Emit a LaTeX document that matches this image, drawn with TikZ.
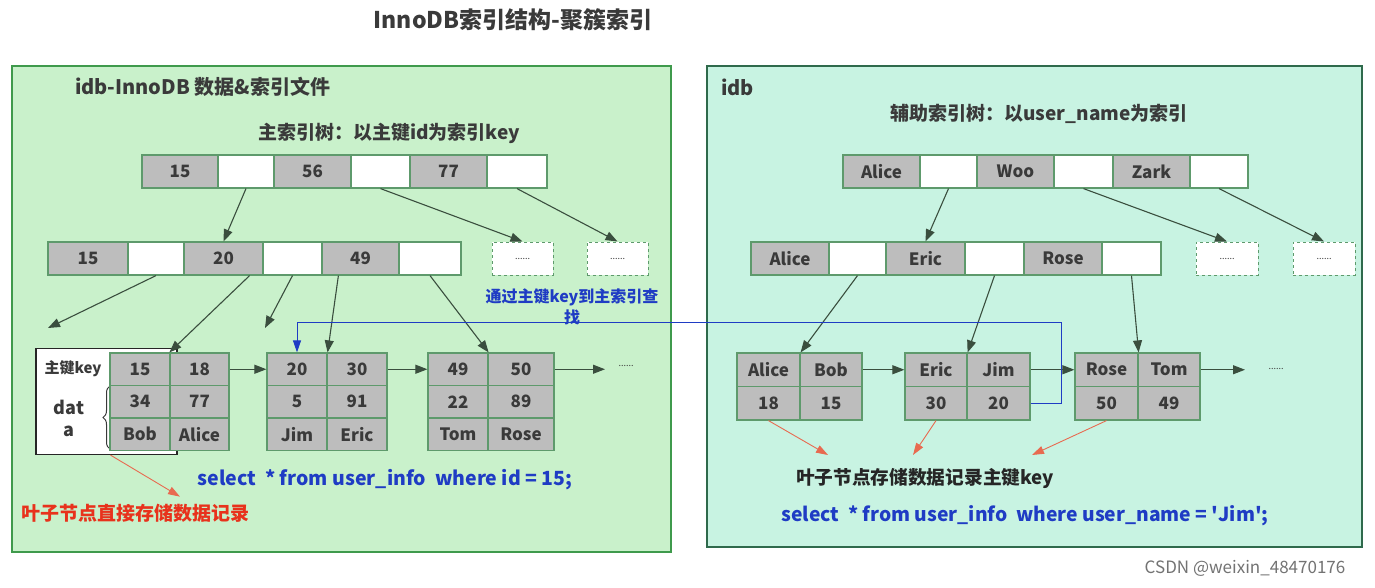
\documentclass[tikz,border=0pt]{standalone}
\usepackage{fontspec}
\setmainfont{Noto Sans CJK SC}
\usetikzlibrary{arrows.meta,calc,decorations.pathreplacing}
\definecolor{lfill}{HTML}{C9F1CB}
\definecolor{lline}{HTML}{3F9A4C}
\definecolor{rfill}{HTML}{C8F3E2}
\definecolor{rline}{HTML}{2F6A4C}
\definecolor{cellgray}{HTML}{BDBDBD}
\definecolor{cellline}{HTML}{5E9A6C}
\definecolor{celltext}{HTML}{3A3A3A}
\definecolor{arrowc}{HTML}{3A4E3E}
\definecolor{bluec}{HTML}{1F3CC4}
\definecolor{redc}{HTML}{E8321C}
\definecolor{redarr}{HTML}{E86A50}
\definecolor{titlec}{HTML}{3A3A3A}
\tikzset{
  cell/.style={draw=cellline, line width=1.2pt, inner sep=0pt, minimum height=33pt,
    text=celltext, font=\fontsize{17}{20}\selectfont\bfseries},
  gc/.style={cell, fill=cellgray},
  wc/.style={cell, fill=white},
  dbox/.style={draw=cellline, dashed, line width=1pt, fill=white, minimum width=61pt,
    minimum height=33pt, inner sep=0pt, text=celltext, font=\fontsize{9}{10}\selectfont},
  arr/.style={-{Triangle[length=12pt,width=9pt]}, draw=arrowc, line width=1.1pt},
  rarr/.style={-{Triangle[length=12pt,width=8pt]}, draw=redarr, line width=0.9pt},
  barr/.style={-{Triangle[length=12pt,width=8pt]}, draw=bluec, line width=1pt},
  lbl/.style={inner sep=0pt, text=celltext, font=\fontsize{18}{21}\selectfont\bfseries},
}
\begin{document}
\begin{tikzpicture}[x=1pt,y=-1pt]
\useasboundingbox[fill=white] (0,0) rectangle (1375,588);
% title
\node[lbl, text=titlec, font=\fontsize{23}{27}\selectfont\bfseries] (title) at (513,20) {InnoDB索引结构-聚簇索引};
% panels
\node[draw=lline, fill=lfill, line width=1.5pt, minimum width=659pt, minimum height=486pt, inner sep=0pt] (lpanel) at (341.5,309) {};
\node[draw=rline, fill=rfill, line width=1.5pt, minimum width=655pt, minimum height=481pt, inner sep=0pt] (rpanel) at (1034.5,306.5) {};
% left headers
\node[lbl, anchor=west, font=\fontsize{20}{24}\selectfont\bfseries] (ltitle) at (75,87) {idb-InnoDB 数据\&索引文件};
\node[lbl, font=\fontsize{19}{22}\selectfont\bfseries] (lsub) at (389,133) {主索引树：以主键id为索引key};
% left root
\node[gc, minimum width=76pt] (L0a) at (180,171.5) {15};
\node[wc, minimum width=56pt] (L0b) at (246,171.5) {};
\node[gc, minimum width=77pt] (L0c) at (312.5,171.5) {56};
\node[wc, minimum width=59pt] (L0d) at (380.5,171.5) {};
\node[gc, minimum width=77pt] (L0e) at (448.5,171.5) {77};
\node[wc, minimum width=60pt] (L0f) at (517,171.5) {};
% left level 2
\node[gc, minimum width=80pt] (L1a) at (88,258.5) {15};
\node[wc, minimum width=56pt] (L1b) at (156,258.5) {};
\node[gc, minimum width=79pt] (L1c) at (223.5,258.5) {20};
\node[wc, minimum width=59pt] (L1d) at (292.5,258.5) {};
\node[gc, minimum width=77pt] (L1e) at (360.5,258.5) {49};
\node[wc, minimum width=62pt] (L1f) at (430,258.5) {};
\node[dbox] (D1) at (522.5,258.5) {......};
\node[dbox] (D2) at (617.5,258.5) {......};
% left leaf 1 box
\node[draw=black!85, fill=white, line width=1.2pt, minimum width=141pt, minimum height=106pt, inner sep=0pt] (LAbox) at (106.5,401.5) {};
\node[lbl, font=\fontsize{15}{18}\selectfont\bfseries] (pk) at (73,369) {主键key};
\node[lbl, align=center, font=\fontsize{18}{22}\selectfont\bfseries] (datl) at (69,418) {dat\\a};
\draw[decorate, decoration={brace, amplitude=7pt}, draw=celltext, line width=1pt] (110,449) -- (110,386);
% left leaves
\foreach \nm/\cx/\w/\ta/\tb/\tc in {LA/140/60/15/34/Bob, LAb/199.5/59/18/77/Alice,
  LB/297/60/20/5/Jim, LBb/357/60/30/91/Eric, LC/458/60/49/22/Tom, LCb/521/66/50/89/Rose}{
  \node[gc, minimum width=\w pt, minimum height=32.5pt] (\nm1) at (\cx,369.25) {\ta};
  \node[gc, minimum width=\w pt, minimum height=32.5pt] (\nm2) at (\cx,401.75) {\tb};
  \node[gc, minimum width=\w pt, minimum height=32.5pt] (\nm3) at (\cx,434.25) {\tc};
}
% left arrows
\draw[arr] (L0b.south) -- (L1c.north);
\draw[arr] (L0d.south) -- (D1.north);
\draw[arr] (L0f.south) -- (D2.north);
\coordinate (lfree1) at (48,328);
\coordinate (lfree2) at (265,328);
\draw[arr] (L1b.south) -- (lfree1);
\draw[arr] ([xshift=-14pt]L1c.south east) -- (LAb1.north west);
\draw[arr] (L1d.south) -- (lfree2);
\draw[arr] ([xshift=17pt]L1e.south west) -- (LB1.north east);
\draw[arr] (L1f.south) -- (LC1.north east);
\draw[arr] (LAb1.east) -- (LB1.west);
\draw[arr] (LBb1.east) -- (LC1.west);
\coordinate (lend) at (605,369.25);
\draw[arr] (LCb1.east) -- (lend);
\node[inner sep=0pt, text=celltext, font=\fontsize{9}{10}\selectfont] (ldots) at (626,366) {......};
% left texts
\node[lbl, text=bluec, font=\fontsize{19.5}{23}\selectfont\bfseries] (lsel) at (385,480) {select~ * from user\_info~ where id = 15;};
\node[lbl, text=redc, font=\fontsize{19}{22}\selectfont\bfseries] (lred) at (135,513) {叶子节点直接存储数据记录};
\draw[rarr] ([xshift=4pt]LAbox.south) -- ([xshift=45pt,yshift=7pt]lred.north);
\node[lbl, text=bluec, align=center, font=\fontsize{16}{21}\selectfont\bfseries] (bnote) at (572,307) {通过主键key到主索引查\\找};
% right headers
\node[lbl, anchor=west, font=\fontsize{20}{24}\selectfont\bfseries] (rtitle) at (721,87) {idb};
\node[lbl, font=\fontsize{19}{22}\selectfont\bfseries] (rsub) at (1039,114) {辅助索引树：以user\_name为索引};
% right root
\node[gc, minimum width=77pt] (R0a) at (881.5,171.5) {Alice};
\node[wc, minimum width=57pt] (R0b) at (948.5,171.5) {};
\node[gc, minimum width=77pt] (R0c) at (1015.5,171.5) {Woo};
\node[wc, minimum width=59pt] (R0d) at (1083.5,171.5) {};
\node[gc, minimum width=77pt] (R0e) at (1151.5,171.5) {Zark};
\node[wc, minimum width=58pt] (R0f) at (1219,171.5) {};
% right level 2
\node[gc, minimum width=78pt] (R1a) at (790,258.5) {Alice};
\node[wc, minimum width=57pt] (R1b) at (857.5,258.5) {};
\node[gc, minimum width=79pt] (R1c) at (925.5,258.5) {Eric};
\node[wc, minimum width=59pt] (R1d) at (994.5,258.5) {};
\node[gc, minimum width=78pt] (R1e) at (1063,258.5) {Rose};
\node[wc, minimum width=59pt] (R1f) at (1131.5,258.5) {};
\node[dbox, minimum width=62pt] (RD1) at (1227,258.5) {......};
\node[dbox, minimum width=62pt] (RD2) at (1324,258.5) {......};
% right leaves
\foreach \nm/\cx/\w/\ta/\tb in {RA/768.5/63/Alice/18, RAb/831/62/Bob/15,
  RB/936/62/Eric/30, RBb/998.5/63/Jim/20, RC/1106.5/63/Rose/50, RCb/1169/62/Tom/49}{
  \node[gc, minimum width=\w pt, minimum height=33.5pt] (\nm1) at (\cx,369.75) {\ta};
  \node[gc, minimum width=\w pt, minimum height=33.5pt] (\nm2) at (\cx,403.25) {\tb};
}
% right arrows
\draw[arr] (R0b.south) -- (R1c.north);
\draw[arr] (R0d.south) -- (RD1.north);
\draw[arr] (R0f.south) -- (RD2.north);
\draw[arr] (R1b.south) -- (RA1.north east);
\draw[arr] (R1d.south) -- (RB1.north east);
\draw[arr] (R1f.south) -- (RC1.north east);
\draw[arr] (RAb1.east) -- (RB1.west);
\draw[arr] (RBb1.east) -- (RC1.west);
\coordinate (rend) at (1245,369.75);
\draw[arr] (RCb1.east) -- (rend);
\node[inner sep=0pt, text=celltext, font=\fontsize{9}{10}\selectfont] (rdots) at (1276,369) {......};
% right texts
\node[lbl, text=black!85, font=\fontsize{18.7}{22}\selectfont\bfseries] (rleaf) at (925,478) {叶子节点存储数据记录主键key};
\node[lbl, text=bluec, font=\fontsize{19.3}{23}\selectfont\bfseries] (rsel) at (1025,516) {select~ * from user\_info~ where user\_name = \textquotesingle Jim\textquotesingle;};
\coordinate (ra1) at (828,455);
\coordinate (ra2) at (913,455);
\coordinate (ra3) at (1032,455);
\draw[rarr] (RA2.south) -- (ra1);
\draw[rarr] (RB2.south) -- (ra2);
\draw[rarr] (RC2.south) -- (ra3);
% blue lookup path
\coordinate (bturn) at (1061,322);
\draw[barr] (RBb2.east) -| (bturn) -| (LB1.north);
% watermark
\node[inner sep=0pt, text=black!55, font=\fontsize{17}{20}\selectfont] (wm) at (1245,568) {CSDN @weixin\_48470176};
\end{tikzpicture}
\end{document}
